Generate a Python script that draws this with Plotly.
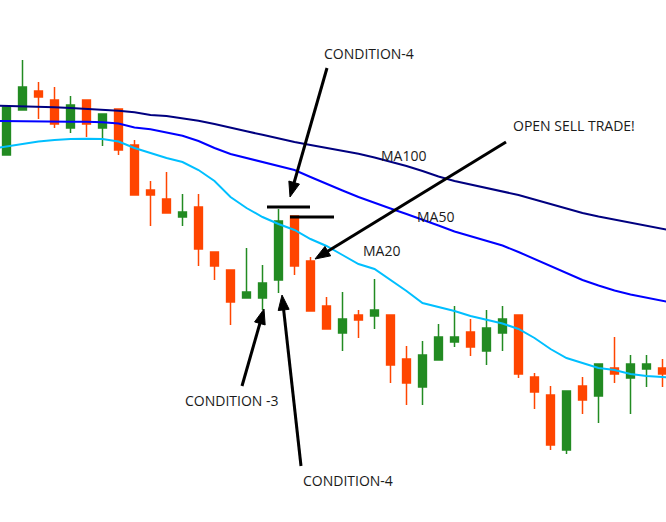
import math
import plotly.graph_objects as go

# ---------------- data (price units) ----------------
candle_index = list(range(42))
open_ = [367, 412, 431, 422, 394, 422, 394, 413, 377, 332, 323, 305, 315, 270, 252, 224, 224, 242,
         306, 261, 216, 189, 207, 206, 207, 163, 135, 162, 180, 190, 171, 189, 207, 145, 127, 72,
         136, 126, 154, 144, 153, 154]
high = [415, 462, 440, 435, 426, 422, 408, 413, 382, 341, 350, 328, 328, 270, 252, 274, 257, 313,
        306, 265, 225, 230, 212, 243, 207, 176, 181, 198, 216, 203, 212, 216, 207, 149, 136, 131,
        145, 158, 185, 167, 167, 163]
low = [367, 412, 403, 394, 389, 385, 376, 367, 327, 296, 309, 296, 256, 242, 197, 224, 212, 229,
       247, 211, 193, 171, 184, 193, 139, 117, 117, 162, 175, 166, 157, 171, 144, 113, 72, 68,
       108, 99, 139, 108, 135, 135]
close = [415, 435, 425, 398, 417, 398, 408, 372, 327, 327, 309, 310, 273, 256, 220, 230, 239, 301,
         256, 211, 193, 203, 202, 212, 157, 139, 167, 185, 185, 175, 194, 203, 148, 130, 77, 131,
         122, 158, 148, 158, 158, 148]

ma_index = list(range(-1, 43))
ma20 = [373, 375.5, 378, 380.5, 382, 383, 383.2, 383, 380.5, 374, 369, 364, 360, 352, 341, 325,
        314, 305, 298, 292, 283, 276, 267, 258, 253, 242, 231, 219, 215, 211, 206, 202, 198.5,
        193, 184, 173, 164, 159, 154, 152, 148, 146, 145, 144]
ma50 = [401, 401, 400.8, 400.6, 400.4, 400.3, 400.2, 399.8, 398.5, 394.5, 392.7, 389.5, 386.3,
        381, 374, 368, 364, 360, 356.5, 352, 345, 338, 331.5, 325, 319, 313.5, 308, 302.5, 296.5,
        290.5, 286, 281.5, 276.5, 270, 263, 255.5, 248.5, 242, 236.5, 231.5, 227.5, 224.5, 221, 218]
ma100 = [416.5, 416.2, 416, 415.5, 414.7, 414, 413.3, 412.5, 411.2, 409.7, 407, 406, 404, 401.3,
         398, 394, 390.7, 387.2, 383.5, 380, 377, 374.2, 371.3, 368.2, 364.5, 360.5, 356, 351,
         345.5, 341, 337.5, 334, 330.7, 327, 322.5, 318, 313, 309, 305.5, 302.5, 299.5, 296.5,
         292.8, 290]

ma_labels = ["MA100", "MA50", "MA20"]

# ---------------- figure ----------------
W, H = 666, 522
GREEN = "#228B22"
RED = "#FF4500"

fig = go.Figure()
fig.add_trace(go.Scatter(x=ma_index, y=ma20, mode="lines",
                         line=dict(color="#00BFFF", width=2), hoverinfo="skip"))
fig.add_trace(go.Scatter(x=ma_index, y=ma50, mode="lines",
                         line=dict(color="#0000FF", width=2), hoverinfo="skip"))
fig.add_trace(go.Scatter(x=ma_index, y=ma100, mode="lines",
                         line=dict(color="#000080", width=2), hoverinfo="skip"))
fig.add_trace(go.Candlestick(
    x=candle_index, open=open_, high=high, low=low, close=close,
    increasing=dict(line=dict(color=GREEN, width=1.5), fillcolor=GREEN),
    decreasing=dict(line=dict(color=RED, width=1.5), fillcolor=RED),
    whiskerwidth=0,
))


def px(x):
    return x / W


def py(y):
    return 1 - y / H


shapes = []
annotations = []


def arrow(tail, tip, head_len=15, head_w=11, width=3):
    (x0, y0), (x1, y1) = tail, tip
    dx, dy = x1 - x0, y1 - y0
    L = math.hypot(dx, dy)
    ux, uy = dx / L, dy / L
    bx, by = x1 - ux * head_len, y1 - uy * head_len
    nx, ny = -uy, ux
    shapes.append(dict(type="line", xref="paper", yref="paper",
                       x0=px(x0), y0=py(y0), x1=px(bx + ux * 2), y1=py(by + uy * 2),
                       line=dict(color="black", width=width)))
    p1 = (bx + nx * head_w / 2, by + ny * head_w / 2)
    p2 = (bx - nx * head_w / 2, by - ny * head_w / 2)
    path = "M {} {} L {} {} L {} {} Z".format(px(x1), py(y1), px(p1[0]), py(p1[1]),
                                              px(p2[0]), py(p2[1]))
    shapes.append(dict(type="path", xref="paper", yref="paper", path=path,
                       fillcolor="black", line=dict(color="black", width=1)))


def hline(x0, x1, y):
    shapes.append(dict(type="line", xref="paper", yref="paper",
                       x0=px(x0), x1=px(x1), y0=py(y), y1=py(y),
                       line=dict(color="black", width=3)))


def label(text, x, y):
    annotations.append(dict(text=text, xref="paper", yref="paper", x=px(x), y=py(y),
                            xanchor="center", yanchor="middle", showarrow=False,
                            font=dict(family="Open Sans", size=14, color="#1a1a1a")))


arrow((327, 68), (290, 197))
arrow((506, 142), (315, 259))
arrow((242, 386), (264, 309))
arrow((301, 466), (282, 295))
hline(267, 310, 207)
hline(290, 334, 217)

label("CONDITION-4", 369, 54)
label("OPEN SELL TRADE!", 574, 125)
label(ma_labels[0], 403, 155)
label(ma_labels[1], 435, 217)
label(ma_labels[2], 382, 250)
label("CONDITION -3", 232, 400)
label("CONDITION-4", 348, 480)

x_lo = -6.5 / 16
fig.update_layout(
    width=W, height=H,
    margin=dict(l=0, r=0, t=0, b=0),
    paper_bgcolor="white", plot_bgcolor="white",
    showlegend=False,
    shapes=shapes, annotations=annotations,
    xaxis=dict(range=[x_lo, x_lo + W / 16], visible=False, fixedrange=True,
               rangeslider=dict(visible=False)),
    yaxis=dict(range=[0, H], visible=False, fixedrange=True),
)

fig.write_html("out.html")
